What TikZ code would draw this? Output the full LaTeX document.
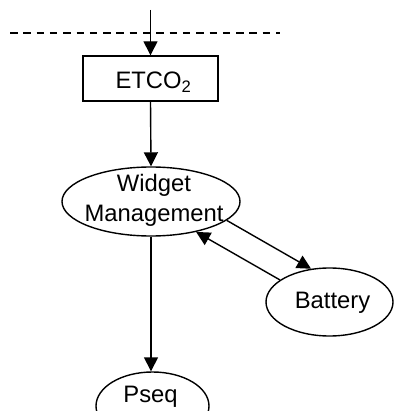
\documentclass[tikz,border=0pt]{standalone}
\usepackage{fontspec}
\setmainfont{Liberation Sans}
\usetikzlibrary{shapes.geometric,arrows.meta}
\begin{document}
\begin{tikzpicture}[x=1pt,y=-1pt,
  every node/.style={font=\fontsize{23.8}{30}\selectfont, text=black, inner sep=0pt},
  conn/.style={line width=1.4pt, -{Triangle[length=14pt,width=14pt]}},
  ell/.style={ellipse, draw, line width=1.4pt, inner sep=0pt},
  boxst/.style={rectangle, draw, line width=1.4pt, inner sep=0pt, minimum width=135pt, minimum height=45pt}]
\useasboundingbox (0,0) rectangle (395,411);
\clip (0,0) rectangle (395,411);
\coordinate (dl) at (10,33);
\coordinate (dr) at (280,33);
\coordinate (src) at (150.5,10);
\draw[line width=1.4pt, dash pattern=on 7.5pt off 5.8pt] (dl) -- (dr);
\node[boxst] (et) at (150.5,78.5) {};
\node[anchor=base] (ettext) at (153.5,89) {ETCO\textsubscript{2}};
\node[ell, minimum width=178pt, minimum height=69pt] (wm) at (151,201.5) {};
\node[align=center] (wmtext) at (154,200.8) {Widget\\Management};
\node[ell, minimum width=127pt, minimum height=68pt] (bat) at (329.5,302) {};
\node[anchor=base] (battext) at (332.5,308) {Battery};
\node[ell, minimum width=113pt, minimum height=68pt] (pseq) at (152.5,406) {};
\node[anchor=base] (pseqtext) at (150.5,402) {Pseq};
\draw[conn] (src) -- (et.north);
\draw[conn] (et.south) -- (wm.north);
\draw[conn] (wm.south) -- (wm.south |- pseq.north);
\draw[conn] (wm.-14) -- (bat.119);
\draw[conn] (bat.156) -- (wm.-34);
\end{tikzpicture}
\end{document}
